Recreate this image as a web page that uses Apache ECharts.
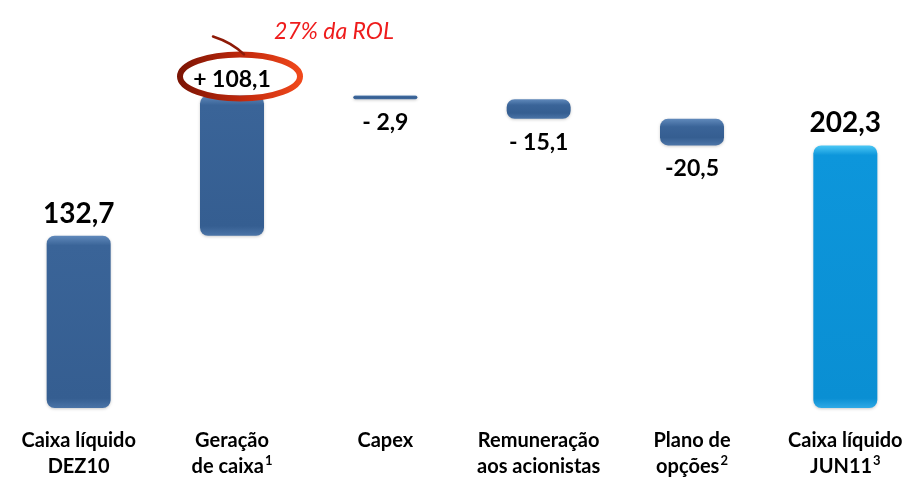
<!DOCTYPE html>
<html>
<head>
    <meta charset="utf-8">
    <title>Caixa líquido DEZ10 - JUN11</title>
    <script src="https://cdn.jsdelivr.net/npm/echarts@6/dist/echarts.min.js"></script>
    <style>
        html, body { margin: 0; padding: 0; background: #fff; }
    </style>
</head>
<body>
    <div id="main" style="width: 922px;height:480px;"></div>
    <script type="text/javascript">
        // chart data
        var categories = ['Caixa líquido\nDEZ10', 'Geração\nde caixa', 'Capex', 'Remuneração\naos acionistas', 'Plano de\nopções', 'Caixa líquido\nJUN11'];
        var footnotes = ['', '1', '', '', '2', '3'];
        var deltas = [132.7, 108.1, -2.9, -15.1, -20.5, 202.3];
        var kinds = ['total', 'up', 'down', 'down', 'down', 'total'];
        var valueLabels = ['132,7', '+ 108,1', '- 2,9', '- 15,1', '-20,5', '202,3'];
        var noteText = '27% da ROL';

        // waterfall: invisible base + visible part
        var baseData = [];
        var barData = [];
        var running = 0;
        for (var i = 0; i < deltas.length; i++) {
            var d = deltas[i];
            var base, h;
            if (kinds[i] === 'total') {
                base = 0; h = d; running = d;
            } else if (d >= 0) {
                base = running; h = d; running += d;
            } else {
                running += d; base = running; h = -d;
            }
            baseData.push(base);
            barData.push({ value: h, idx: i });
        }

        var pxPerUnit = 332.5 / 250;

        function barColor(i, h) {
            var px = Math.max(h * pxPerUnit, 1);
            var bev = Math.min(0.3, 10 / px);
            var c = i === deltas.length - 1
                ? { top: '#4cc8f5', base: '#0d96db', mid: '#0a8fd3', bot: '#2ea9e6' }
                : { top: '#6089bb', base: '#3a6498', mid: '#355e91', bot: '#4b74a7' };
            return {
                type: 'linear', x: 0, y: 0, x2: 0, y2: 1,
                colorStops: [
                    { offset: 0, color: c.top },
                    { offset: bev, color: c.base },
                    { offset: 1 - bev, color: c.mid },
                    { offset: 1, color: c.bot }
                ]
            };
        }

        var seriesData = barData.map(function (b) {
            var i = b.idx;
            var down = kinds[i] === 'down';
            var total = kinds[i] === 'total';
            return {
                value: b.value,
                itemStyle: {
                    color: barColor(i, b.value),
                    borderRadius: b.value * pxPerUnit < 12 ? 2 : 8,
                    shadowColor: 'rgba(0,0,0,0.2)',
                    shadowBlur: 3,
                    shadowOffsetY: 1
                },
                label: {
                    show: true,
                    position: down ? 'bottom' : 'top',
                    distance: down ? 12 : (total ? 8 : 4),
                    formatter: valueLabels[i],
                    fontSize: total ? 28 : 23,
                    fontWeight: 'bold',
                    fontFamily: 'Lato',
                    color: '#000'
                }
            };
        });

        var myChart = echarts.init(document.getElementById('main'));

        var option = {
            animation: false,
            grid: { left: 2, right: -10, top: 83.5, bottom: 64 },
            xAxis: {
                type: 'category',
                data: categories,
                axisLine: { show: false },
                axisTick: { show: false },
                axisLabel: {
                    interval: 0,
                    margin: 20,
                    fontFamily: 'Lato',
                    fontWeight: 'bold',
                    fontSize: 20,
                    lineHeight: 26,
                    color: '#000',
                    formatter: function (value, idx) {
                        var parts = value.split('\n');
                        var last = parts.pop();
                        var out = parts.map(function (p) { return '{t|' + p + '}'; });
                        out.push('{t|' + last + '}' + (footnotes[idx] ? '{s|' + footnotes[idx] + '}' : ''));
                        return out.join('\n');
                    },
                    rich: {
                        t: { fontFamily: 'Lato', fontWeight: 'bold', fontSize: 20, lineHeight: 26, color: '#000' },
                        s: { fontFamily: 'Lato', fontWeight: 'bold', fontSize: 13, lineHeight: 26, color: '#000', verticalAlign: 'top', padding: [0, 0, 8, 1] }
                    }
                }
            },
            yAxis: {
                type: 'value',
                min: 0,
                max: 250,
                show: false,
                splitLine: { show: false }
            },
            series: [
                {
                    type: 'bar',
                    stack: 'w',
                    data: baseData,
                    barWidth: 64,
                    itemStyle: { color: 'transparent' },
                    silent: true
                },
                {
                    type: 'bar',
                    stack: 'w',
                    data: seriesData,
                    barWidth: 64
                }
            ]
        };

        myChart.setOption(option);

        // annotation round the "Geração de caixa" label
        var top2 = baseData[1] + barData[1].value;
        var p = myChart.convertToPixel({ gridIndex: 0 }, [1, top2]);
        var cx = p[0] + 8;
        var cy = p[1] - 19;
        myChart.setOption({
            graphic: [
                {
                    type: 'ellipse',
                    shape: { cx: cx, cy: cy, rx: 60, ry: 22 },
                    style: {
                        fill: 'none',
                        lineWidth: 6,
                        stroke: {
                            type: 'linear', x: 0, y: 0, x2: 1, y2: 0,
                            colorStops: [
                                { offset: 0, color: '#7a1404' },
                                { offset: 0.55, color: '#c42a0d' },
                                { offset: 1, color: '#f24a1c' }
                            ]
                        }
                    },
                    z: 10
                },
                {
                    type: 'bezierCurve',
                    shape: { x1: cx + 4, y1: cy - 22, cpx1: cx - 8, cpy1: cy - 34, x2: cx - 27, y2: cy - 40 },
                    style: { stroke: '#8e1a07', lineWidth: 2.5, fill: 'none', lineCap: 'round' },
                    z: 10
                },
                {
                    type: 'text',
                    x: cx + 94,
                    y: cy - 45,
                    style: {
                        text: noteText,
                        fill: '#ee1c1c',
                        font: 'italic 23px Lato',
                        align: 'center',
                        verticalAlign: 'middle'
                    },
                    z: 10
                }
            ]
        });
    </script>
</body>
</html>
